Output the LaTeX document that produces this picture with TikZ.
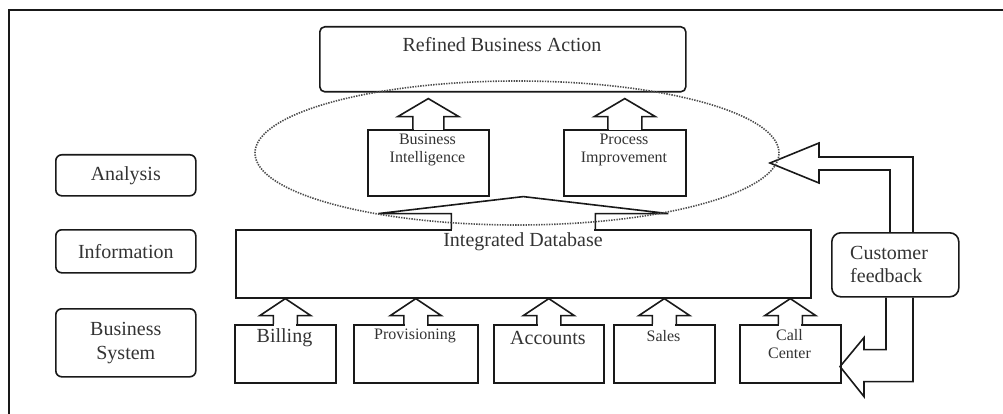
\documentclass[tikz,border=0pt]{standalone}
\usepackage{fontspec}
\setmainfont{Liberation Serif}
\usetikzlibrary{calc,shapes.geometric}
\newcommand\fbig{\fontsize{20}{23}\selectfont}
\newcommand\fsml{\fontsize{16}{18}\selectfont}
% block up-arrow merged into the top of box #1, pointing at the bottom of #2
% #3 shaft half width, #4 head half width, #5 head length, #6 gap below target
\newcommand\blkup[6]{%
  \fill[white] let \p1=(#1.north) in (\x1-#3+1pt,\y1-1.5pt) rectangle (\x1+#3-1pt,\y1+1.5pt);
  \draw[linestyle] let \p1=(#1.north), \p2=(#2.south) in
    (\x1-#3,\y1) -- (\x1-#3,\y2-#6-#5) -- (\x1-#4,\y2-#6-#5) -- (\x1,\y2-#6)
    -- (\x1+#4,\y2-#6-#5) -- (\x1+#3,\y2-#6-#5) -- (\x1+#3,\y1);
}
\begin{document}
\begin{tikzpicture}[x=1pt,y=-1pt,
  linestyle/.style={line width=1.6pt, line join=miter, draw=black!90},
  box/.style={linestyle, rectangle, inner sep=0pt, anchor=north west},
  rbox/.style={box, rounded corners=6pt},
  txt/.style={text=black!80, inner sep=0pt, align=center},
]
\useasboundingbox (0,0) rectangle (1003,414);
% outer frame (only top and left edges visible)
\draw[linestyle, line width=2pt] (9,414) coordinate (fb) -- (9,10) coordinate (fc) -- (1003,10) coordinate (fr);

% left level labels
\node[rbox, minimum width=140pt, minimum height=41pt] (an) at (55,154) {};
\node[txt, font=\fbig] (ant) at (an.center) {Analysis};
\node[rbox, minimum width=140pt, minimum height=43pt] (inf) at (55,229) {};
\node[txt, font=\fbig] (inft) at (inf.center) {Information};
\node[rbox, minimum width=140pt, minimum height=68pt] (bs) at (55,308) {};
\node[txt, font=\fbig] (bst) at (bs.center) {Business\\[1pt]System};

% top box
\node[rbox, rounded corners=5pt, minimum width=366pt, minimum height=65pt] (rba) at (319,26) {};
\node[txt, font=\fbig, anchor=center] (rbat) at (502,45) {Refined Business Action};

% analysis boxes
\node[box, minimum width=121pt, minimum height=66pt] (bi) at (367,129) {};
\node[txt, font=\fsml, anchor=center] (bit) at (427.5,150) {Business\\Intelligence};
\node[box, minimum width=122pt, minimum height=66pt] (pi) at (563,129) {};
\node[txt, font=\fsml, anchor=center] (pit) at (624,150) {Process\\Improvement};
\blkup{bi}{rba}{15.5pt}{30.5pt}{18pt}{6pt}
\blkup{pi}{rba}{17pt}{30.5pt}{18pt}{6pt}

% integrated database
\node[box, minimum width=575pt, minimum height=68pt] (db) at (235,229) {};
\node[txt, font=\fbig, anchor=center] (dbt) at (523,242) {Integrated Database};
\blkup{db}{bi}{72pt}{145pt}{17pt}{0pt}

% business systems
\node[box, minimum width=101pt, minimum height=58pt] (bill) at (234,324) {};
\node[txt, font=\fbig, anchor=center] (billt) at (284.5,338) {Billing};
\node[box, minimum width=124pt, minimum height=58pt] (prov) at (353,324) {};
\node[txt, font=\fsml, anchor=center] (provt) at (415,336) {Provisioning};
\node[box, minimum width=110pt, minimum height=58pt] (acc) at (493,324) {};
\node[txt, font=\fbig, anchor=center] (acct) at (548,338) {Accounts};
\node[box, minimum width=101pt, minimum height=58pt] (sal) at (613,324) {};
\node[txt, font=\fsml, anchor=center] (salt) at (663.5,336) {Sales};
\node[box, minimum width=101pt, minimum height=58pt] (cc) at (739,324) {};
\node[txt, font=\fsml, anchor=center] (cct) at (789.5,344) {Call\\Center};
\foreach \b in {bill,prov,acc,sal,cc} {\blkup{\b}{db}{12pt}{25.5pt}{17pt}{0pt}}

% customer feedback
\node[rbox, rounded corners=9pt, minimum width=127pt, minimum height=64pt] (cf) at (831,232) {};
\node[txt, font=\fbig, align=left, anchor=west] (cft) at (850,264) {Customer\\feedback};
\begin{scope}[shift={(cf.north west)}]
  \draw[linestyle] (82,0) -- (82,-75) -- (-12,-75) -- (-12,-89) -- (-61,-69)
    -- (-12,-49) -- (-12,-62) -- (59,-62) -- (59,0);
\end{scope}
\begin{scope}[shift={(cf.south west)}]
  \draw[linestyle] (55,0) -- (55,52) -- (33,52) -- (33,40) -- (9,69)
    -- (33,99) -- (33,84) -- (82,84) -- (82,0);
\end{scope}

% dotted ellipse
\node[ellipse, draw=black!70, dash pattern=on 1.4pt off 1.2pt, line width=1.6pt, inner sep=0pt,
  minimum width=524pt, minimum height=144pt] (ell) at (517,153) {};
\end{tikzpicture}
\end{document}
